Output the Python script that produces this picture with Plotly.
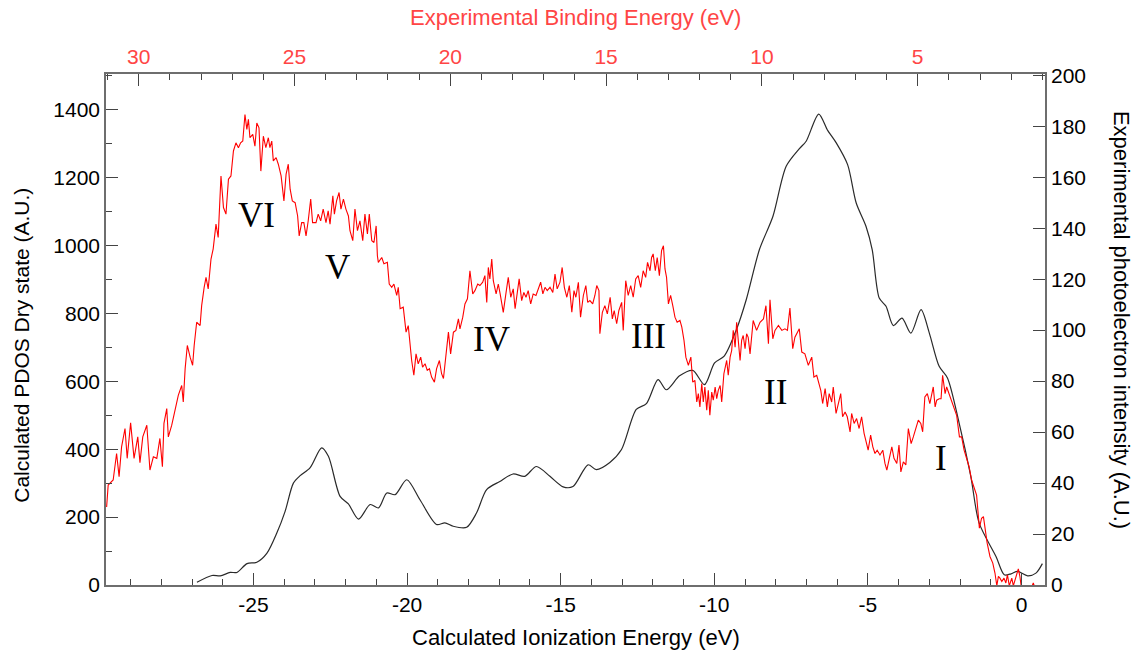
import plotly.graph_objects as go

# Calculated PDOS (dry state) vs calculated ionization energy -> bottom / left axes
calc_ie = [-26.84, -26.35, -26.08, -25.76, -25.54, -25.21, -24.89, -24.56, -24.24, -23.97,
           -23.70, -23.48, -23.16, -22.78, -22.56, -22.18, -21.91, -21.58, -21.20, -20.93,
           -20.66, -20.39, -20.01, -19.58, -19.04, -18.77, -18.50, -18.06, -17.74, -17.41,
           -16.98, -16.55, -16.17, -15.79, -15.35, -14.92, -14.60, -14.11, -13.84, -13.40,
           -13.02, -12.54, -12.21, -11.83, -11.56, -11.13, -10.70, -10.32, -9.99, -9.67,
           -9.28, -8.96, -8.53, -8.09, -7.66, -7.23, -7.01, -6.60, -6.31, -6.03,
           -5.66, -5.38, -5.06, -4.86, -4.63, -4.41, -4.17, -3.89, -3.60, -3.27,
           -3.00, -2.68, -2.41, -2.03, -1.65, -1.38, -0.83, -0.56, -0.34, -0.13,
           0.20, 0.47, 0.68]
pdos = [8, 28, 27, 37, 37, 63, 67, 94, 153, 217,
        300, 322, 345, 404, 379, 261, 239, 194, 237, 227,
        271, 266, 310, 251, 178, 183, 173, 170, 212, 281,
        305, 327, 320, 349, 320, 289, 290, 354, 340, 361,
        399, 517, 534, 605, 575, 616, 632, 590, 654, 675,
        752, 840, 988, 1086, 1233, 1285, 1307, 1387, 1339, 1302,
        1238, 1125, 1056, 988, 845, 821, 764, 786, 742, 811,
        742, 644, 610, 477, 320, 183, 84, 30, 33, 40,
        27, 35, 63]

# Experimental photoelectron spectrum vs binding energy -> top / right axes
exp_be = [31.03, 30.98, 30.82, 30.71, 30.63, 30.55, 30.44, 30.37, 30.26, 30.15,
          30.03, 29.96, 29.87, 29.74, 29.64, 29.53, 29.42, 29.32, 29.24, 29.19,
          29.10, 29.05, 28.94, 28.84, 28.73, 28.62, 28.57, 28.51, 28.44, 28.35,
          28.27, 28.22, 28.14, 28.03, 27.98, 27.90, 27.84, 27.77, 27.68, 27.61,
          27.52, 27.45, 27.36, 27.28, 27.20, 27.12, 27.04, 26.96, 26.88, 26.80,
          26.73, 26.66, 26.59, 26.53, 26.48, 26.43, 26.34, 26.27, 26.21, 26.14,
          26.08, 26.00, 25.92, 25.84, 25.79, 25.73, 25.68, 25.59, 25.52, 25.43,
          25.38, 25.34, 25.27, 25.20, 25.14, 25.07, 24.98, 24.90, 24.85, 24.77,
          24.70, 24.63, 24.56, 24.48, 24.42, 24.31, 24.24, 24.16, 24.08, 23.99,
          23.92, 23.86, 23.77, 23.72, 23.65, 23.57, 23.51, 23.43, 23.35, 23.27,
          23.22, 23.13, 23.06, 22.98, 22.90, 22.81, 22.74, 22.66, 22.60, 22.52,
          22.45, 22.38, 22.34, 22.31, 22.20, 22.13, 22.02, 21.96, 21.88, 21.81,
          21.72, 21.67, 21.61, 21.51, 21.42, 21.35, 21.24, 21.17, 21.10, 21.03,
          20.95, 20.89, 20.81, 20.74, 20.67, 20.60, 20.51, 20.44, 20.35, 20.28,
          20.22, 20.14, 20.06, 19.99, 19.90, 19.82, 19.74, 19.69, 19.60, 19.53,
          19.45, 19.37, 19.28, 19.21, 19.12, 19.05, 18.96, 18.89, 18.83, 18.78,
          18.73, 18.67, 18.62, 18.53, 18.46, 18.40, 18.30, 18.21, 18.14, 18.06,
          17.98, 17.92, 17.85, 17.79, 17.71, 17.64, 17.57, 17.50, 17.42, 17.34,
          17.25, 17.18, 17.10, 17.03, 16.96, 16.89, 16.80, 16.71, 16.64, 16.57,
          16.48, 16.41, 16.34, 16.26, 16.18, 16.10, 16.03, 15.97, 15.89, 15.82,
          15.73, 15.65, 15.59, 15.52, 15.43, 15.36, 15.30, 15.23, 15.20, 15.12,
          15.04, 14.96, 14.87, 14.80, 14.74, 14.66, 14.59, 14.50, 14.45, 14.37,
          14.29, 14.21, 14.13, 14.05, 13.97, 13.89, 13.81, 13.73, 13.67, 13.59,
          13.54, 13.49, 13.42, 13.36, 13.29, 13.22, 13.16, 13.11, 13.06, 13.00,
          12.93, 12.86, 12.79, 12.72, 12.63, 12.57, 12.50, 12.44, 12.36, 12.28,
          12.22, 12.15, 12.09, 12.04, 11.99, 11.93, 11.88, 11.83, 11.77, 11.72,
          11.67, 11.61, 11.56, 11.50, 11.45, 11.40, 11.34, 11.29, 11.22, 11.13,
          11.08, 11.02, 10.97, 10.92, 10.86, 10.81, 10.76, 10.70, 10.65, 10.60,
          10.54, 10.49, 10.44, 10.38, 10.28, 10.17, 10.06, 9.95, 9.87, 9.79,
          9.74, 9.65, 9.58, 9.47, 9.36, 9.26, 9.18, 9.10, 9.01, 8.94,
          8.80, 8.72, 8.62, 8.51, 8.40, 8.33, 8.24, 8.19, 8.11, 8.05,
          7.97, 7.90, 7.84, 7.76, 7.71, 7.62, 7.55, 7.47, 7.41, 7.33,
          7.26, 7.17, 7.12, 7.04, 6.96, 6.88, 6.80, 6.72, 6.64, 6.59,
          6.51, 6.44, 6.37, 6.30, 6.21, 6.12, 6.05, 5.99, 5.91, 5.83,
          5.76, 5.67, 5.60, 5.54, 5.46, 5.38, 5.30, 5.21, 5.14, 5.05,
          4.98, 4.90, 4.84, 4.77, 4.69, 4.61, 4.55, 4.50, 4.44, 4.39,
          4.31, 4.25, 4.20, 4.12, 4.07, 4.00, 3.91, 3.84, 3.75, 3.66,
          3.59, 3.51, 3.43, 3.35, 3.27, 3.19, 3.11, 3.02, 2.95, 2.89,
          2.84, 2.77, 2.68, 2.59, 2.52, 2.46, 2.41, 2.36, 2.30, 2.23,
          2.17, 2.12, 2.06, 1.98, 1.93, 1.85, 1.77, 1.72, 1.68,
          1.49, 1.29, 1.21]
exp_intensity = [30.6, 39.2, 41.2, 51.6, 42.5, 54.2, 61.4, 49.7, 63.6, 49.7,
                 58.1, 48.0, 58.1, 62.7, 45.1, 50.3, 49.7, 57.5, 46.4, 63.4,
                 69.2, 58.1, 62.7, 67.9, 74.4, 78.3, 71.8, 84.9, 94.0, 89.4,
                 86.2, 94.0, 103.1, 101.8, 109.6, 116.8, 120.7, 116.2, 127.9, 131.9,
                 141.6, 136.4, 160.5, 148.1, 145.5, 159.2, 160.5, 170.3, 173.5, 171.6,
                 173.5, 174.2, 184.6, 178.8, 182.7, 175.5, 176.8, 172.2, 181.3, 179.4,
                 162.4, 176.1, 171.6, 175.5, 171.6, 174.2, 166.4, 167.7, 165.1, 160.5,
                 154.0, 150.7, 161.2, 165.1, 155.3, 150.7, 150.0, 144.8, 137.0, 142.2,
                 142.2, 137.0, 142.9, 151.4, 142.2, 142.2, 145.5, 142.9, 147.5, 142.2,
                 146.8, 141.6, 152.7, 145.5, 150.7, 154.0, 147.5, 151.4, 147.5, 144.8,
                 139.0, 135.1, 147.5, 139.0, 142.9, 135.1, 145.5, 137.7, 145.5, 135.1,
                 134.4, 140.9, 129.2, 126.6, 128.5, 126.0, 126.6, 118.1, 116.8, 118.1,
                 113.6, 116.8, 108.4, 109.0, 99.2, 101.8, 88.1, 82.3, 90.7, 86.8,
                 89.4, 85.5, 86.8, 84.2, 84.9, 81.6, 79.6, 84.9, 88.1, 82.9,
                 81.0, 91.4, 99.2, 90.7, 99.2, 99.9, 104.4, 100.5, 105.1, 110.3,
                 112.3, 123.3, 114.2, 115.5, 118.1, 117.5, 118.8, 121.4, 110.9, 124.6,
                 120.1, 127.9, 119.4, 114.2, 118.1, 114.2, 107.0, 114.8, 120.7, 112.9,
                 116.2, 108.4, 114.2, 120.1, 111.6, 114.8, 112.9, 115.5, 110.3, 114.2,
                 113.6, 116.2, 118.8, 114.2, 116.8, 115.5, 116.8, 114.8, 122.0, 116.2,
                 118.8, 124.6, 116.8, 112.9, 117.5, 107.0, 115.5, 112.9, 118.8, 105.1,
                 113.6, 117.5, 110.9, 111.6, 110.3, 113.6, 117.5, 115.5, 98.6, 107.0,
                 109.6, 106.4, 112.9, 104.4, 107.7, 102.5, 107.7, 110.9, 99.9, 119.4,
                 113.6, 117.5, 112.9, 120.1, 121.4, 116.8, 123.3, 120.7, 126.6, 123.3,
                 128.5, 129.9, 123.3, 128.5, 121.4, 131.2, 133.1, 124.0, 120.7, 110.3,
                 113.6, 109.6, 105.1, 103.1, 103.8, 101.2, 96.0, 89.4, 86.2, 89.4,
                 79.6, 80.3, 71.8, 75.1, 69.9, 79.0, 71.8, 77.7, 68.6, 76.4,
                 66.6, 75.7, 72.5, 77.7, 73.1, 76.4, 78.3, 71.8, 82.9, 88.1,
                 82.3, 89.4, 92.0, 99.9, 93.3, 103.1, 96.6, 88.1, 96.0, 97.9,
                 92.7, 98.6, 97.2, 90.7, 103.8, 99.9, 103.1, 104.4, 109.6, 94.7,
                 111.9, 96.6, 99.9, 101.8, 99.9, 100.5, 99.9, 108.7, 92.7, 97.2,
                 100.5, 91.4, 90.7, 86.2, 89.4, 81.6, 82.3, 80.3, 76.4, 71.2,
                 77.1, 69.9, 75.1, 71.8, 77.7, 67.3, 71.2, 75.1, 66.0, 67.9,
                 66.0, 60.1, 67.3, 63.4, 65.3, 61.4, 66.0, 59.5, 55.5, 52.9,
                 58.8, 54.2, 51.6, 52.9, 51.0, 52.9, 47.7, 45.1, 49.7, 54.2,
                 49.7, 47.7, 54.9, 44.4, 48.3, 47.1, 61.4, 55.5, 58.1, 62.0,
                 64.7, 63.4, 60.1, 73.8, 75.1, 71.2, 75.1, 77.7, 69.9, 72.5,
                 73.1, 73.1, 82.3, 75.1, 77.7, 75.1, 72.5, 69.9, 66.6, 58.1,
                 58.1, 52.9, 49.7, 46.4, 41.2, 38.6, 35.3, 22.3, 26.2, 26.8,
                 21.6, 16.4, 11.2, 8.6, 4.7, -0.3, 3.4, 2.7, 1.4, 2.7,
                 0.8, 4.0, -0.3, 2.7, -0.3, 3.4, 6.3, 3.4, -0.3,
                 -5.7, 0.8, -2.0]

# Tick values for each axis
ie_ticks = [-25, -20, -15, -10, -5, 0]
be_ticks = [30, 25, 20, 15, 10, 5]
pdos_ticks = [0, 200, 400, 600, 800, 1000, 1200, 1400]
intensity_ticks = [0, 20, 40, 60, 80, 100, 120, 140, 160, 180, 200]

# Band labels placed on the calculated axes
band_names = ["VI", "V", "IV", "III", "II", "I"]
band_x = [-24.89, -22.25, -17.24, -12.13, -8.02, -2.62]
band_y = [1087, 934, 722, 733, 568, 374]

SANS = "Liberation Sans, Arial, sans-serif"
SERIF = "Liberation Serif, Times New Roman, serif"
AXIS_GREY = "#6e6e6e"
TICK_GREY = "#444444"
EXP_RED = "#ff0000"
LABEL_RED = "#ff4545"
TICK_SIZE = 21

fig = go.Figure()

fig.add_trace(go.Scatter(
    x=calc_ie, y=pdos, mode="lines",
    line=dict(color="#2a2a2a", width=1.2, shape="spline", smoothing=0.8),
    xaxis="x", yaxis="y", showlegend=False, hoverinfo="skip",
))

fig.add_trace(go.Scatter(
    x=exp_be, y=exp_intensity, mode="lines",
    line=dict(color=EXP_RED, width=1.1),
    xaxis="x2", yaxis="y2", showlegend=False, hoverinfo="skip",
))

common = dict(showgrid=False, zeroline=False, showline=True, linecolor=AXIS_GREY,
              linewidth=1.6, ticks="inside", tickcolor=TICK_GREY, tickwidth=1.2,
              ticklen=12, tickmode="array")


def labels(vals):
    # plain hyphen-minus labels, e.g. "-25"
    return [f"{v:g}" for v in vals]


fig.update_layout(
    width=1139, height=655,
    margin=dict(l=106, r=94, t=74, b=70),
    paper_bgcolor="white", plot_bgcolor="white",
    font=dict(family=SANS, color="black", size=TICK_SIZE),
    xaxis=dict(range=[-29.80, 0.765], tickvals=ie_ticks, ticktext=labels(ie_ticks),
               minor=dict(dtick=1, tick0=0, ticklen=6, ticks="inside", tickcolor=TICK_GREY),
               tickfont=dict(size=TICK_SIZE), **common),
    xaxis2=dict(range=[31.05, 0.914], overlaying="x", side="top", anchor="y",
                tickvals=be_ticks, ticktext=labels(be_ticks),
                minor=dict(dtick=1, tick0=0, ticklen=6, ticks="inside", tickcolor=TICK_GREY),
                tickfont=dict(size=TICK_SIZE, color=LABEL_RED), **common),
    yaxis=dict(range=[0, 1505], tickvals=pdos_ticks, ticktext=labels(pdos_ticks),
               minor=dict(dtick=100, tick0=0, ticklen=6, ticks="inside", tickcolor=TICK_GREY),
               tickfont=dict(size=TICK_SIZE), **common),
    yaxis2=dict(range=[0, 200.5], overlaying="y", side="right", anchor="x",
                tickvals=intensity_ticks, ticktext=labels(intensity_ticks),
                tickfont=dict(size=TICK_SIZE), **common),
)

annotations = [
    dict(text="Experimental Binding Energy (eV)", xref="paper", yref="paper",
         x=0.5, y=1.1096, xanchor="center", yanchor="middle", showarrow=False,
         font=dict(family=SANS, size=22, color=LABEL_RED)),
    dict(text="Calculated Ionization Energy (eV)", xref="paper", yref="paper",
         x=0.5, y=-0.1018, xanchor="center", yanchor="middle", showarrow=False,
         font=dict(family=SANS, size=22, color="black")),
    dict(text="Calculated PDOS Dry state (A.U.)", xref="paper", yref="paper",
         x=-0.0895, y=0.47, xanchor="center", yanchor="middle", showarrow=False,
         textangle=-90, font=dict(family=SANS, size=21, color="black")),
    dict(text="Experimental photoelectron intensity (A.U.)", xref="paper", yref="paper",
         x=1.081, y=0.5186, xanchor="center", yanchor="middle", showarrow=False,
         textangle=90, font=dict(family=SANS, size=22, color="black")),
]
for name, bx, by in zip(band_names, band_x, band_y):
    annotations.append(dict(text=name, x=bx, y=by, xref="x", yref="y",
                            xanchor="center", yanchor="middle", showarrow=False,
                            font=dict(family=SERIF, size=35, color="black")))
fig.update_layout(annotations=annotations)

fig.write_html("out.html")
